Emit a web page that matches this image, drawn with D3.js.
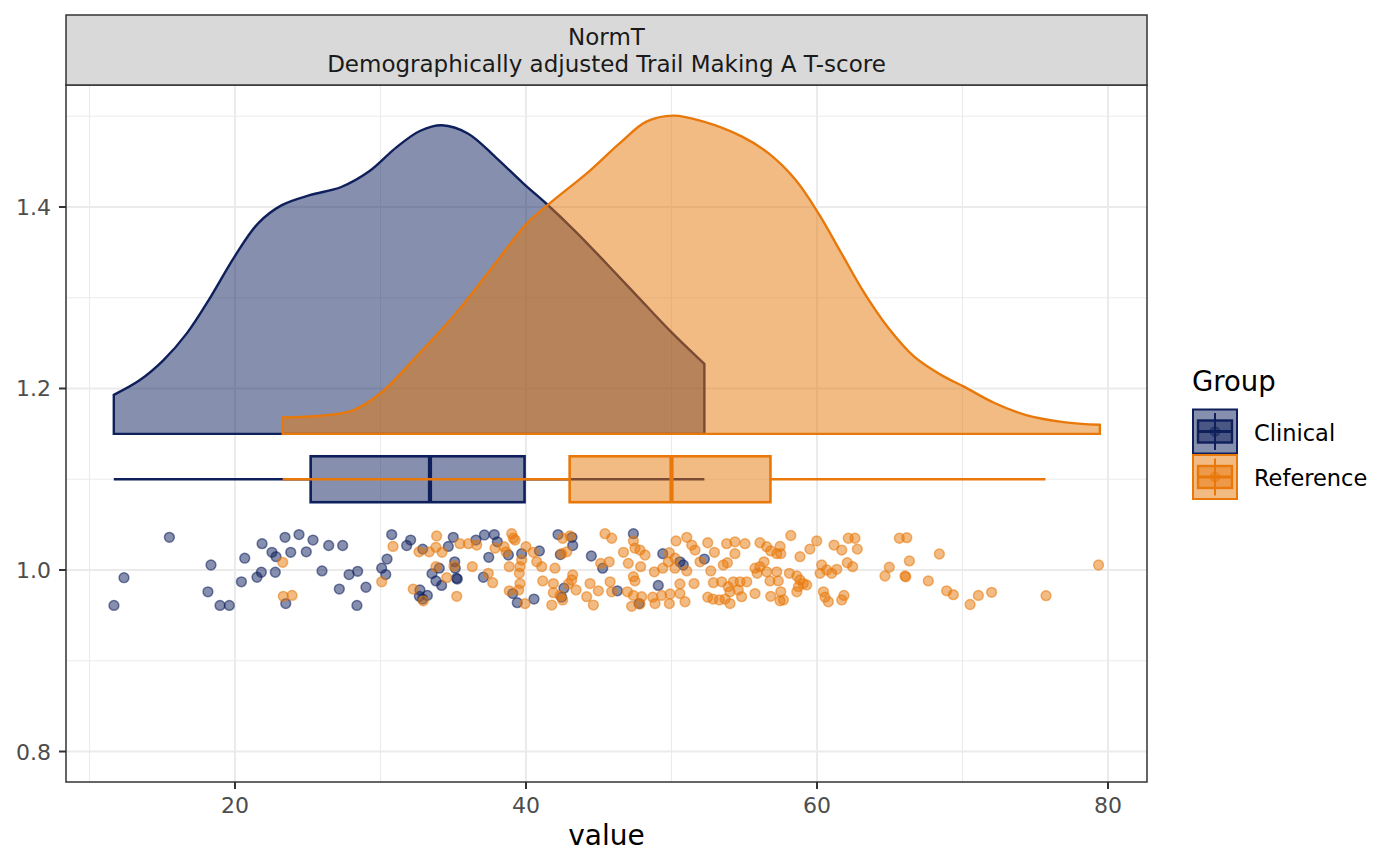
<!DOCTYPE html>
<html>
<head>
<meta charset="utf-8">
<script src="https://cdn.jsdelivr.net/npm/d3@7"></script>
<style>
  html, body { margin: 0; padding: 0; background: #ffffff; }
  svg { display: block; font-family: "DejaVu Sans", sans-serif; }
</style>
</head>
<body>
<svg id="chart" width="1400" height="866"></svg>
<script>
// ---------------- DATA ----------------
const groups = ["Clinical", "Reference"];
const groupColors = ["#0E1F5C", "#E8780A"];

const stripLines = ["NormT", "Demographically adjusted Trail Making A T-score"];
const xTicks = [20, 40, 60, 80];
const xMinor = [10, 30, 50, 70];
const yTicks = [0.8, 1.0, 1.2, 1.4];
const yMinor = [0.9, 1.1, 1.3, 1.5];
const xTitle = "value";
const legendTitle = "Group";

// density outlines (value, top y)
const clinicalDensity = [
  [11.67,1.193],[13.44,1.209],[15.07,1.231],[16.70,1.261],[18.33,1.301],[19.96,1.345],
  [21.59,1.382],[23.22,1.402],[25.13,1.413],[27.30,1.422],[29.20,1.439],[31.11,1.466],
  [32.74,1.484],[34.23,1.490],[36.00,1.481],[37.90,1.455],[39.81,1.426],[41.44,1.403],
  [43.34,1.374],[45.51,1.338],[47.69,1.301],[49.87,1.264],[52.26,1.227]
];
const referenceDensity = [
  [23.28,1.168],[25.94,1.170],[28.12,1.176],[30.02,1.195],[32.46,1.235],[35.19,1.283],
  [37.90,1.338],[40.07,1.382],[41.71,1.405],[44.32,1.439],[46.43,1.470],[48.27,1.494],
  [50.11,1.5006],[52.21,1.494],[54.85,1.4775],[56.68,1.459],[58.52,1.430],[60.10,1.393],
  [61.68,1.349],[63.26,1.305],[64.84,1.268],[66.68,1.235],[68.52,1.215],[70.10,1.202],
  [72.20,1.184],[74.31,1.171],[76.94,1.163],[79.44,1.160]
];

// box statistics: [min, Q1, median, Q3, max]
const clinicalBox = [11.67, 25.2, 33.4, 39.9, 52.26];
const referenceBox = [23.28, 43.0, 50.0, 56.8, 75.7];

// jittered points: [value, jittered y]
const clinicalPoints = [
  [15.49,1.036],[12.37,0.9915],[11.68,0.961],[18.35,1.0055],[18.14,0.976],[18.97,0.961],
  [19.61,0.961],[20.67,1.013],[20.44,0.987],[21.86,1.029],[22.54,1.0195],[22.82,1.0147],
  [21.51,0.992],[21.81,0.9975],[22.77,0.9975],[23.44,1.036],[24.40,1.039],[23.83,1.0195],
  [25.36,1.033],[24.90,1.020],[23.49,0.963],[26.44,1.027],[27.40,1.027],[25.98,0.999],
  [27.84,0.995],[28.43,0.9985],[27.17,0.979],[29.00,0.981],[28.38,0.961],[30.77,1.039],
  [30.45,1.012],[30.08,1.002],[30.36,0.995],
  [31.80,1.027],[32.07,1.033],[32.90,1.023],[33.54,0.996],[34.04,1.002],[33.81,0.988],
  [34.20,0.983],[32.71,0.978],[32.67,0.971],[32.90,0.968],[33.22,0.972],[34.66,1.026],
  [35.00,1.036],[35.10,1.009],[35.14,1.002],[35.28,0.990],[35.22,0.991],[36.56,1.033],
  [37.14,1.0386],[37.82,1.039],[38.03,1.031],[37.44,1.014],[37.07,0.992],[38.79,1.0165],
  [39.70,1.018],[40.92,1.021],[39.09,0.974],[39.40,0.964],[40.55,0.968],[42.20,1.039],
  [43.16,1.036],[43.21,1.027],[42.36,1.017],[44.49,1.0154],[45.27,1.002],[42.61,0.980],
  [42.45,0.970],[46.28,0.977],
  [47.38,1.040],[49.40,1.018],[50.58,1.009],[50.81,1.0055],[52.26,1.012],[49.09,0.983],
  [47.77,0.963]
];
const referencePoints = [
  [23.28,1.0085],[23.32,0.971],[23.92,0.972],[30.86,1.026],[30.08,0.987],
  [32.25,0.979],[32.94,0.966],[32.65,1.020],[33.35,1.020],[33.81,1.025],[34.23,1.0195],
  [33.86,1.0375],[33.81,1.0037],[34.55,0.9915],[35.05,1.0044],[35.24,0.971],[35.46,1.029],
  [36.04,1.029],[36.61,1.0275],[36.31,1.0037],[37.41,0.9963],[37.71,0.986],[37.87,1.024],
  [38.49,1.0257],[38.63,1.020],[39.02,1.040],[39.13,1.035],[39.25,1.033],[38.85,1.0037],
  [39.59,1.0037],[39.70,1.011],[39.54,0.9963],[39.59,0.985],[38.85,0.977],[39.50,0.978],
  [39.93,0.963],[40.00,1.0257],[40.50,1.0195],[40.74,1.009],[41.08,1.0037],[41.15,0.988],
  [41.99,1.002],[41.88,0.985],[41.88,0.975],[41.77,0.9614],[42.34,0.972],[42.52,0.967],
  [42.45,1.018],[42.80,1.020],[42.52,1.035],[43.02,1.0375],[42.91,0.9846],[43.21,0.9945],
  [43.14,0.989],[43.44,0.978],[44.40,0.985],[44.17,0.9706],[44.63,0.9614],[44.97,0.977],
  [45.13,1.0073],[45.72,1.009],[45.43,1.040],[45.89,1.035],[45.78,0.987],[45.89,0.976],
  [47.38,1.032],[46.70,1.0195],[47.49,1.024],[47.83,1.022],[48.18,1.0165],[47.03,1.0073],
  [47.88,1.0037],[47.38,0.9926],[47.49,0.988],[46.97,0.976],[47.38,0.972],[47.95,0.9706],
  [47.26,0.960],[47.83,0.9625],[48.71,0.970],[48.87,0.963],[49.32,0.972],[49.85,0.963],
  [49.90,0.9736],[50.58,0.974],[50.93,0.965],[50.58,0.9846],[51.55,0.985],[48.82,0.998],
  [49.40,1.002],[49.78,1.009],[49.85,1.019],[50.24,1.013],[50.24,1.002],[51.05,0.999],
  [50.31,1.032],[51.05,1.036],[51.39,1.0275],[51.62,1.022],[51.96,1.009],[52.49,1.030],
  [52.95,1.0195],[52.70,0.999],[52.88,0.986],[52.49,0.970],[52.85,0.968],[53.45,0.987],
  [53.56,1.0055],[53.84,1.008],[53.79,1.029],[54.36,1.031],[55.05,1.029],[54.36,1.018],
  [53.29,0.967],[53.68,0.968],[54.02,0.963],[53.90,0.9816],[54.25,0.987],[54.02,0.976],
  [54.71,0.987],[54.59,0.978],[55.17,0.987],[54.82,0.9706],[55.74,0.974],[56.08,1.030],
  [56.54,1.0257],[56.82,1.021],[57.46,1.026],[57.51,1.018],[57.23,1.018],[55.74,1.002],
  [56.08,1.0037],[56.36,1.009],[55.89,0.9963],[56.54,0.998],[57.23,0.998],[56.77,0.988],
  [57.34,0.988],[56.82,0.971],[57.51,0.976],[57.69,0.967],[57.46,0.966],[58.20,1.038],
  [58.10,0.9963],[58.61,0.9934],[58.83,0.989],[59.06,0.985],[58.72,0.9816],[59.29,0.9835],
  [58.61,0.976],[58.83,1.0147],[59.51,1.023],[59.98,1.032],[60.32,1.0055],[60.21,0.9963],
  [60.67,1.000],[61.01,0.9963],[61.36,1.0007],[60.44,0.976],[60.55,0.970],[60.78,0.965],
  [61.70,0.967],[61.85,0.972],[61.17,1.0275],[61.70,1.022],[62.15,1.035],[62.61,1.035],
  [62.77,1.023],[62.08,1.008],[62.45,1.0037],
  [65.66,1.035],[66.17,1.0356],[68.41,1.0176],[66.35,1.010],[64.97,1.003],[64.67,0.9934],
  [66.05,0.9934],[66.10,0.9925],[67.65,0.988],[68.91,0.977],[69.37,0.9728],[70.52,0.962],
  [71.09,0.972],[72.00,0.9754],[75.74,0.9717],[79.35,1.0055]
];

// ---------------- LAYOUT ----------------
const panel = { left: 66, right: 1147, top: 85, bottom: 782 };
const strip = { top: 15, bottom: 85 };
const densityBase = 1.15;
const boxCenter = 1.1;
const boxHalf = 0.0253;

const svg = d3.select("#chart");
svg.append("rect").attr("width", 1400).attr("height", 866).attr("fill", "#ffffff");

const x = d3.scaleLinear().domain([8.385, 82.68]).range([panel.left, panel.right]);
const y = d3.scaleLinear().domain([0.7664, 1.5344]).range([panel.bottom, panel.top]);

svg.append("rect")
  .attr("x", panel.left).attr("y", panel.top)
  .attr("width", panel.right - panel.left).attr("height", panel.bottom - panel.top)
  .attr("fill", "#ffffff");

const grid = svg.append("g");
grid.selectAll(".xminor").data(xMinor).join("line")
  .attr("x1", d => x(d)).attr("x2", d => x(d))
  .attr("y1", panel.top).attr("y2", panel.bottom)
  .attr("stroke", "#ebebeb").attr("stroke-width", 1.1);
grid.selectAll(".yminor").data(yMinor).join("line")
  .attr("y1", d => y(d)).attr("y2", d => y(d))
  .attr("x1", panel.left).attr("x2", panel.right)
  .attr("stroke", "#ebebeb").attr("stroke-width", 1.1);
grid.selectAll(".xmajor").data(xTicks).join("line")
  .attr("x1", d => x(d)).attr("x2", d => x(d))
  .attr("y1", panel.top).attr("y2", panel.bottom)
  .attr("stroke", "#ebebeb").attr("stroke-width", 2.1);
grid.selectAll(".ymajor").data(yTicks).join("line")
  .attr("y1", d => y(d)).attr("y2", d => y(d))
  .attr("x1", panel.left).attr("x2", panel.right)
  .attr("stroke", "#ebebeb").attr("stroke-width", 2.1);

const plot = svg.append("g");

// densities
const area = d3.area()
  .x(d => x(d[0]))
  .y0(y(densityBase))
  .y1(d => y(d[1]))
  .curve(d3.curveCatmullRom.alpha(0.5));

const densities = [clinicalDensity, referenceDensity];
densities.forEach((dens, i) => {
  plot.append("path")
    .attr("d", area(dens))
    .attr("fill", groupColors[i]).attr("fill-opacity", 0.5)
    .attr("stroke", groupColors[i]).attr("stroke-width", 2.4)
    .attr("stroke-linejoin", "miter");
});

// boxplots
const boxes = [clinicalBox, referenceBox];
boxes.forEach((b, i) => {
  const c = groupColors[i];
  const g = plot.append("g");
  g.append("line")
    .attr("x1", x(b[0])).attr("x2", x(b[1]))
    .attr("y1", y(boxCenter)).attr("y2", y(boxCenter))
    .attr("stroke", c).attr("stroke-width", 2.6);
  g.append("line")
    .attr("x1", x(b[3])).attr("x2", x(b[4]))
    .attr("y1", y(boxCenter)).attr("y2", y(boxCenter))
    .attr("stroke", c).attr("stroke-width", 2.6);
  g.append("rect")
    .attr("x", x(b[1])).attr("width", x(b[3]) - x(b[1]))
    .attr("y", y(boxCenter + boxHalf)).attr("height", y(boxCenter - boxHalf) - y(boxCenter + boxHalf))
    .attr("fill", c).attr("fill-opacity", 0.5)
    .attr("stroke", c).attr("stroke-width", 2.6);
  g.append("line")
    .attr("x1", x(b[2])).attr("x2", x(b[2]))
    .attr("y1", y(boxCenter + boxHalf)).attr("y2", y(boxCenter - boxHalf))
    .attr("stroke", c).attr("stroke-width", 4.2);
});

// points
const pointSets = [clinicalPoints, referencePoints];
pointSets.forEach((pts, i) => {
  plot.append("g").selectAll("circle").data(pts).join("circle")
    .attr("cx", d => x(d[0])).attr("cy", d => y(d[1]))
    .attr("r", 4.9)
    .attr("fill", groupColors[i]).attr("fill-opacity", 0.5)
    .attr("stroke", groupColors[i]).attr("stroke-opacity", 0.55).attr("stroke-width", 1.5);
});

// panel border
svg.append("rect")
  .attr("x", panel.left).attr("y", panel.top)
  .attr("width", panel.right - panel.left).attr("height", panel.bottom - panel.top)
  .attr("fill", "none").attr("stroke", "#333333").attr("stroke-width", 1.5);

// strip
svg.append("rect")
  .attr("x", panel.left).attr("y", strip.top)
  .attr("width", panel.right - panel.left).attr("height", strip.bottom - strip.top)
  .attr("fill", "#d9d9d9").attr("stroke", "#333333").attr("stroke-width", 1.5);
const stripText = svg.append("g");
stripLines.forEach((t, i) => {
  stripText.append("text")
    .attr("x", (panel.left + panel.right) / 2).attr("y", 45 + i * 26.5)
    .attr("text-anchor", "middle").attr("font-size", 23).attr("fill", "#1a1a1a")
    .text(t);
});

// axes
const xAxis = svg.append("g");
xAxis.selectAll("line").data(xTicks).join("line")
  .attr("x1", d => x(d)).attr("x2", d => x(d))
  .attr("y1", panel.bottom).attr("y2", panel.bottom + 7)
  .attr("stroke", "#333333").attr("stroke-width", 2);
xAxis.selectAll("text").data(xTicks).join("text")
  .attr("x", d => x(d)).attr("y", 812.5)
  .attr("text-anchor", "middle").attr("font-size", 22).attr("fill", "#4d4d4d")
  .text(d => d3.format("d")(d));

const yAxis = svg.append("g");
yAxis.selectAll("line").data(yTicks).join("line")
  .attr("x1", panel.left - 7).attr("x2", panel.left)
  .attr("y1", d => y(d)).attr("y2", d => y(d))
  .attr("stroke", "#333333").attr("stroke-width", 2);
yAxis.selectAll("text").data(yTicks).join("text")
  .attr("x", 51).attr("y", d => y(d) + 8)
  .attr("text-anchor", "end").attr("font-size", 22).attr("fill", "#4d4d4d")
  .text(d => d3.format(".1f")(d));

svg.append("text")
  .attr("x", (panel.left + panel.right) / 2).attr("y", 845)
  .attr("text-anchor", "middle").attr("font-size", 28).attr("fill", "#000000")
  .text(xTitle);

// legend
const legend = svg.append("g");
legend.append("text")
  .attr("x", 1192).attr("y", 391)
  .attr("font-size", 27.5).attr("fill", "#000000")
  .text(legendTitle);
groups.forEach((gname, i) => {
  const c = groupColors[i];
  const top = 409.5 + i * 45.5;
  const k = legend.append("g");
  k.append("rect")
    .attr("x", 1193).attr("y", top).attr("width", 44).attr("height", 44)
    .attr("fill", c).attr("fill-opacity", 0.5)
    .attr("stroke", c).attr("stroke-width", 2);
  k.append("line").attr("x1", 1215).attr("x2", 1215)
    .attr("y1", top + 3.5).attr("y2", top + 40.5)
    .attr("stroke", c).attr("stroke-width", 2);
  k.append("rect")
    .attr("x", 1198).attr("y", top + 11).attr("width", 34).attr("height", 22)
    .attr("fill", c).attr("fill-opacity", 0.5)
    .attr("stroke", c).attr("stroke-width", 2.4);
  k.append("line").attr("x1", 1198).attr("x2", 1232)
    .attr("y1", top + 22).attr("y2", top + 22)
    .attr("stroke", c).attr("stroke-width", 3);
  k.append("circle").attr("cx", 1215).attr("cy", top + 22).attr("r", 4.6)
    .attr("fill", c).attr("fill-opacity", 0.5)
    .attr("stroke", c).attr("stroke-opacity", 0.5).attr("stroke-width", 1.4);
  legend.append("text")
    .attr("x", 1254).attr("y", top + 31)
    .attr("font-size", 22.5).attr("fill", "#000000")
    .text(gname);
});
</script>
</body>
</html>
